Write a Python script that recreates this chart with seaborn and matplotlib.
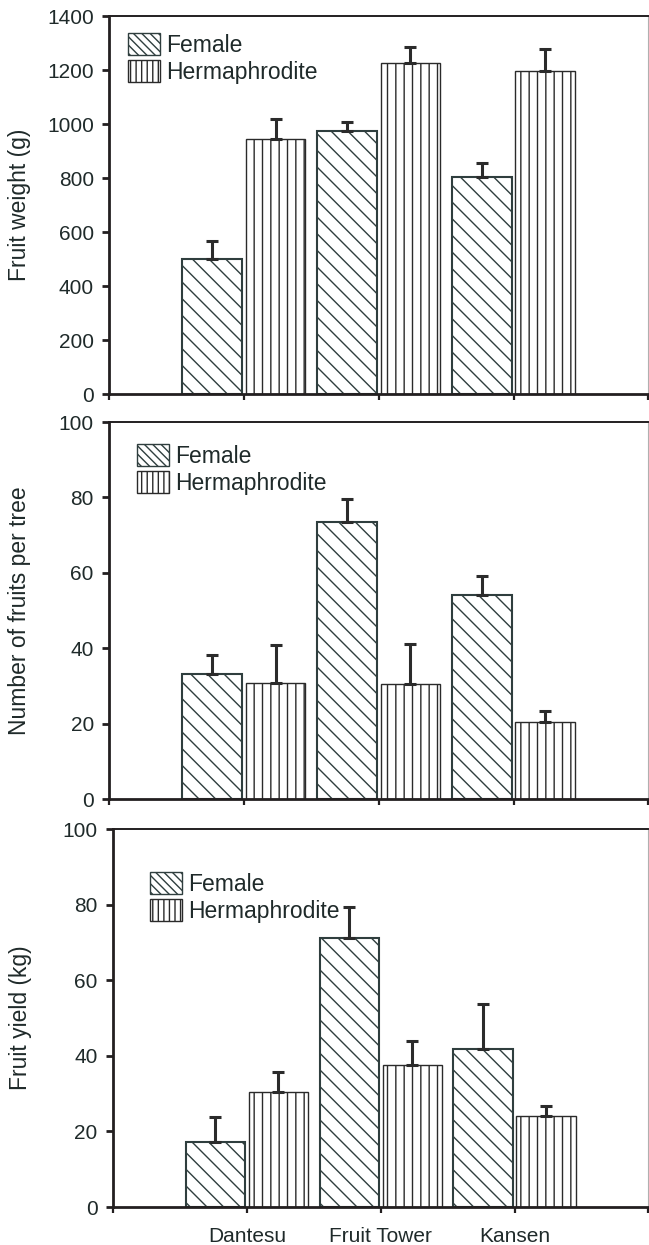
import numpy as np
import pandas as pd
import matplotlib
matplotlib.use('Agg')
import matplotlib.pyplot as plt
import seaborn as sns
from matplotlib.patches import Patch

## DATA
categories = ['Dantesu', 'Fruit Tower', 'Kansen']
positions = [1, 2, 3]
sexes = ['Female', 'Hermaphrodite']

weight_female = [500, 975, 805]
weight_female_se = [65, 32, 50]
weight_herm = [945, 1225, 1195]
weight_herm_se = [73, 62, 83]

fruits_female = [33.2, 73.5, 54.0]
fruits_female_se = [5.0, 6.0, 5.2]
fruits_herm = [30.8, 30.5, 20.5]
fruits_herm_se = [10.1, 10.5, 2.8]

yield_female = [17.3, 71.2, 41.9]
yield_female_se = [6.4, 8.1, 11.9]
yield_herm = [30.4, 37.5, 24.2]
yield_herm_se = [5.3, 6.5, 2.5]

## STYLE
sns.set_theme(style='white')
plt.rcParams['font.family'] = ['Liberation Sans', 'DejaVu Sans']
plt.rcParams['hatch.linewidth'] = 1.0
dark = '#231f20'
text_col = '#1f2a2a'
female_edge = '#2f3e3e'
herm_edge = '#2a2a2a'


def draw_panel(ax, female, female_se, herm, herm_se, ymax, ystep, ylabel, anchor, show_labels):
    df = pd.DataFrame({
        'pos': positions * 2,
        'value': female + herm,
        'sex': [sexes[0]] * 3 + [sexes[1]] * 3,
    })
    sns.barplot(data=df, x='pos', y='value', hue='sex', native_scale=True,
                width=0.94, gap=0.06, errorbar=None, palette=['white', 'white'],
                legend=False, ax=ax, zorder=2)

    # hatches + edges per series
    for bar in ax.containers[0]:
        bar.set_hatch('\\\\')
        bar.set_edgecolor(female_edge)
        bar.set_linewidth(1.5)
    for bar in ax.containers[1]:
        bar.set_hatch('||')
        bar.set_edgecolor(herm_edge)
        bar.set_linewidth(1.0)

    # one-sided error bars on top of each bar
    for cont, se in zip(ax.containers[:2], [female_se, herm_se]):
        xs = [b.get_x() + b.get_width() / 2 for b in cont]
        ys = [b.get_height() for b in cont]
        ax.errorbar(xs, ys, yerr=[np.zeros(len(se)), se], fmt='none',
                    ecolor='#2b2b2b', elinewidth=2.2, capsize=4, capthick=2.2, zorder=3)

    ax.set_xlim(0, 4)
    ax.set_ylim(0, ymax)
    ax.set_xticks([0, 1, 2, 3, 4])
    if show_labels:
        ax.set_xticklabels([''] + categories + [''])
    else:
        ax.set_xticklabels([''] * 5)
    ax.set_yticks(np.arange(0, ymax + 1, ystep))
    ax.set_xlabel('')
    ax.set_ylabel(ylabel, fontsize=16.5, color=text_col)
    ax.yaxis.set_label_coords(-0.145, 0.5)

    ax.tick_params(axis='y', direction='out', length=5, width=2, color=dark,
                   labelsize=15, labelcolor=text_col, pad=6, left=True)
    ax.tick_params(axis='x', direction='out', length=4.5, width=1.6, color=dark,
                   labelsize=15, labelcolor=text_col, pad=10, bottom=True)

    for side in ['left', 'bottom']:
        ax.spines[side].set_color(dark)
        ax.spines[side].set_linewidth(2)
    ax.spines['top'].set_color(dark)
    ax.spines['top'].set_linewidth(1.4)
    ax.spines['right'].set_color('#b0b0b0')
    ax.spines['right'].set_linewidth(0.8)

    handles = [
        Patch(facecolor='white', edgecolor=female_edge, hatch='\\\\\\\\', linewidth=1),
        Patch(facecolor='white', edgecolor=herm_edge, hatch='|||', linewidth=1),
    ]
    leg = ax.legend(handles, sexes, loc='upper left', bbox_to_anchor=anchor,
                    frameon=False, fontsize=16.5, handlelength=1.4, handleheight=1.1,
                    handletextpad=0.25, labelspacing=0.15, borderpad=0, borderaxespad=0)
    for t in leg.get_texts():
        t.set_color(text_col)


fig = plt.figure(figsize=(6.49, 12.45), dpi=100)
ax1 = fig.add_axes([0.168, 0.6835, 0.831, 0.3036])
ax2 = fig.add_axes([0.168, 0.3582, 0.831, 0.3028])
ax3 = fig.add_axes([0.1741, 0.0305, 0.8249, 0.3036])

draw_panel(ax1, weight_female, weight_female_se, weight_herm, weight_herm_se,
           1400, 200, 'Fruit weight (g)', (0.035, 0.955), False)
draw_panel(ax2, fruits_female, fruits_female_se, fruits_herm, fruits_herm_se,
           100, 20, 'Number of fruits per tree', (0.052, 0.942), False)
draw_panel(ax3, yield_female, yield_female_se, yield_herm, yield_herm_se,
           100, 20, 'Fruit yield (kg)', (0.069, 0.886), True)
ax3.yaxis.set_label_coords(-0.152, 0.5)

fig.savefig('out.png', dpi=100)
